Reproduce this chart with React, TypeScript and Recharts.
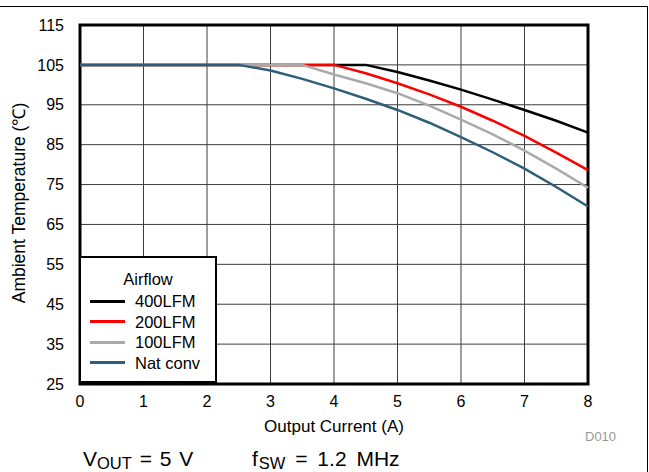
import { CartesianGrid, Line, LineChart, ReferenceArea, XAxis, YAxis } from 'recharts';

const FONT = '"Liberation Sans", Arial, Helvetica, sans-serif';

// Output current (A)
const current = [0, 1, 2, 2.5, 3, 3.5, 4, 4.5, 5, 5.5, 6, 6.5, 7, 7.5, 8];

// Ambient temperature (°C) per airflow condition
const lfm400 = [105, 105, 105, 105, 105, 105, 105, 105, 103.2, 101.1, 98.8, 96.3, 93.7, 91, 88];
const lfm200 = [105, 105, 105, 105, 105, 105, 105, 102.9, 100.4, 97.6, 94.5, 91, 87.2, 83, 78.6];
const lfm100 = [105, 105, 105, 105, 105, 105, 102.6, 100.4, 97.9, 94.8, 91.3, 87.6, 83.5, 79, 74.2];
const natConv = [105, 105, 105, 105, 103.6, 101.5, 99.1, 96.5, 93.7, 90.5, 86.9, 83.1, 79, 74.4, 69.5];

const xTicks = [0, 1, 2, 3, 4, 5, 6, 7, 8];
const yTicks = [25, 35, 45, 55, 65, 75, 85, 95, 105, 115];

const series = [
  { key: 'lfm400', name: '400LFM', color: '#000000', values: lfm400 },
  { key: 'lfm200', name: '200LFM', color: '#ff0000', values: lfm200 },
  { key: 'lfm100', name: '100LFM', color: '#aaaaaa', values: lfm100 },
  { key: 'natConv', name: 'Nat conv', color: '#2e5f78', values: natConv },
];

const data = current.map((x, i) => {
  const row: Record<string, number> = { x };
  series.forEach((s) => {
    row[s.key] = s.values[i];
  });
  return row;
});

function AirflowLegend() {
  return (
    <div
      style={{
        position: 'absolute',
        left: 79,
        top: 256,
        width: 138,
        height: 127,
        border: '2px solid #000',
        background: '#fff',
        fontFamily: FONT,
        fontSize: 16.5,
        color: '#000',
        boxSizing: 'border-box',
      }}
    >
      <div style={{ position: 'absolute', top: 11, left: 0, width: '100%', textAlign: 'center', lineHeight: '20px' }}>
        Airflow
      </div>
      {series.map((s, i) => (
        <div
          key={s.key}
          style={{ position: 'absolute', left: 9, top: 33 + i * 20.5, height: 20, display: 'flex', alignItems: 'center' }}
        >
          <span style={{ display: 'inline-block', width: 35, height: 3, background: s.color }} />
          <span style={{ marginLeft: 10, lineHeight: '20px' }}>{s.name}</span>
        </div>
      ))}
    </div>
  );
}

export default function App() {
  return (
    <div style={{ position: 'absolute', left: 0, top: 0, width: 649, height: 472, background: '#fff', fontFamily: FONT }}>
      {/* frame lines */}
      <div style={{ position: 'absolute', left: 0, top: 6, width: 648, height: 0, borderTop: '1px solid #000' }} />
      <div style={{ position: 'absolute', left: 647, top: 6, width: 0, height: 466, borderLeft: '1px solid #000' }} />

      <LineChart width={649} height={472} data={data} margin={{ top: 25, right: 61, bottom: 58, left: 0 }}>
        <CartesianGrid stroke="#3c3c3c" strokeWidth={1} horizontalValues={yTicks} verticalValues={xTicks} />
        <XAxis
          dataKey="x"
          type="number"
          domain={[0, 8]}
          ticks={xTicks}
          height={30}
          tickSize={0}
          tickMargin={12}
          axisLine={false}
          tick={{ fill: '#000', fontSize: 16, fontFamily: FONT }}
        />
        <YAxis
          type="number"
          domain={[25, 115]}
          ticks={yTicks}
          width={80}
          tickSize={0}
          tickMargin={16}
          axisLine={false}
          tick={{ fill: '#000', fontSize: 16, fontFamily: FONT }}
        />
        {series.map((s) => (
          <Line
            key={s.key}
            dataKey={s.key}
            name={s.name}
            type="linear"
            stroke={s.color}
            strokeWidth={2.5}
            dot={false}
            isAnimationActive={false}
          />
        ))}
        <ReferenceArea x1={0} x2={8} y1={25} y2={115} fill="none" stroke="#000" strokeWidth={3} ifOverflow="visible" />
      </LineChart>

      <AirflowLegend />

      <div
        style={{
          position: 'absolute',
          left: 18,
          top: 203,
          transform: 'translate(-50%, -50%) rotate(-90deg)',
          whiteSpace: 'nowrap',
          fontSize: 17.5,
        }}
      >
        Ambient Temperature (℃)
      </div>
      <div style={{ position: 'absolute', left: 334, top: 427, transform: 'translate(-50%, -50%)', whiteSpace: 'nowrap', fontSize: 17 }}>
        Output Current (A)
      </div>
      <div style={{ position: 'absolute', left: 585, top: 429, fontSize: 13, color: '#999' }}>D010</div>
      <div style={{ position: 'absolute', left: 83, top: 447, fontSize: 21, whiteSpace: 'nowrap', wordSpacing: 2 }}>
        V<sub style={{ fontSize: 16.5, verticalAlign: '-3px' }}>OUT</sub> = 5 V
      </div>
      <div style={{ position: 'absolute', left: 252, top: 447, fontSize: 21, whiteSpace: 'nowrap', wordSpacing: 4 }}>
        f<sub style={{ fontSize: 16.5, verticalAlign: '-3px', marginLeft: 1 }}>SW</sub> = 1.2 MHz
      </div>
    </div>
  );
}
